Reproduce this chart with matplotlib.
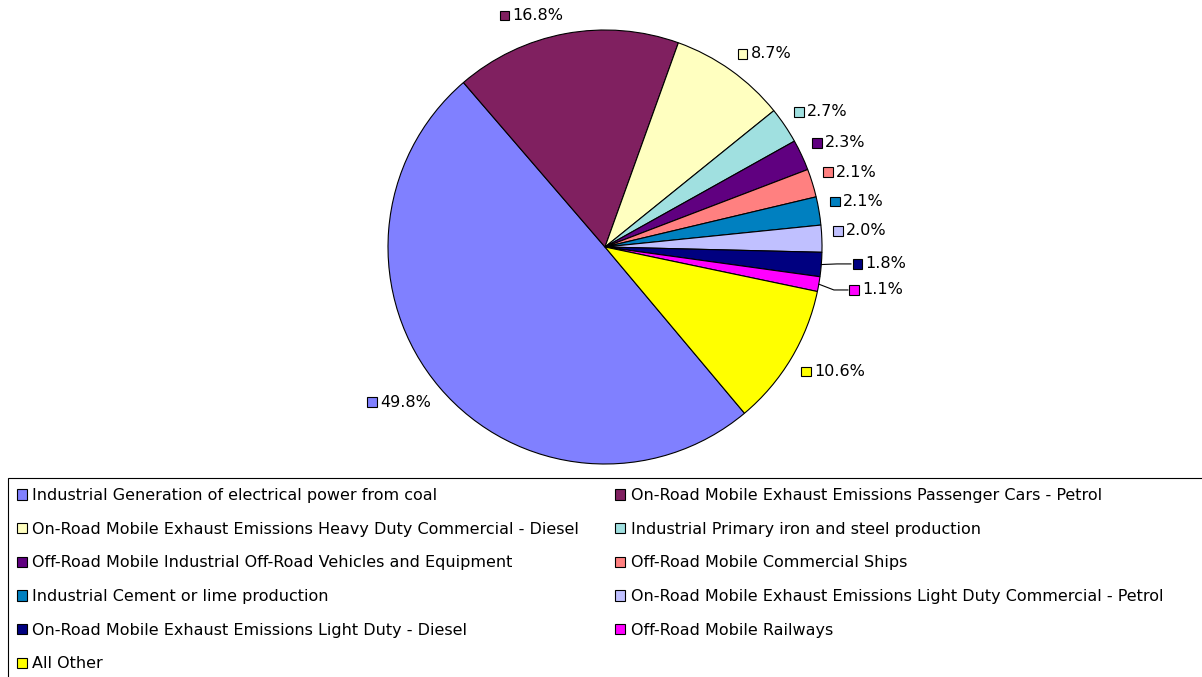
import matplotlib
matplotlib.use("Agg")
import numpy as np
from matplotlib import pyplot as plt
from matplotlib.patches import Patch, Rectangle
from matplotlib.offsetbox import AnnotationBbox, DrawingArea, HPacker, TextArea

# data
sources = [
    "Industrial Generation of electrical power from coal",
    "On-Road Mobile Exhaust Emissions Passenger Cars - Petrol",
    "On-Road Mobile Exhaust Emissions Heavy Duty Commercial - Diesel",
    "Industrial Primary iron and steel production",
    "Off-Road Mobile Industrial Off-Road Vehicles and Equipment",
    "Off-Road Mobile Commercial Ships",
    "Industrial Cement or lime production",
    "On-Road Mobile Exhaust Emissions Light Duty Commercial - Petrol",
    "On-Road Mobile Exhaust Emissions Light Duty - Diesel",
    "Off-Road Mobile Railways",
    "All Other",
]
shares = [49.8, 16.8, 8.7, 2.7, 2.3, 2.1, 2.1, 2.0, 1.8, 1.1, 10.6]
colors = ["#8080FF", "#802060", "#FFFFC0", "#A0E0E0", "#600080", "#FF8080",
          "#0080C0", "#C0C0FF", "#000080", "#FF00FF", "#FFFF00"]

FONT = 11.5
W, H = 1202, 677
CX, CY, R = 605, H - 247, 217

# labels that were pushed off the slice (offset from centre, in radii)
pushed = {8: (1.138, -0.078), 9: (1.124, -0.198)}

plt.rcParams['font.family'] = ['DejaVu Sans']
fig = plt.figure(figsize=(W / 100, H / 100), dpi=100)
ax = fig.add_axes([0, 0, 1, 1])

wedges, _ = ax.pie(shares, colors=colors, center=(CX, CY), radius=R,
                   startangle=90 - 140, counterclock=False,
                   wedgeprops=dict(edgecolor="black", linewidth=0.8))
ax.set_xlim(0, W)
ax.set_ylim(0, H)
ax.set_aspect("equal")
ax.axis("off")


def label_box(value, color):
    # DrawingArea works in points (1pt = 1.39px at 100 dpi)
    square = DrawingArea(7.8, 7.8, 0, 0)
    square.add_artist(Rectangle((0.4, 0.4), 7.0, 7.0, facecolor=color, edgecolor="black", linewidth=0.8))
    text = TextArea(f"{value:.1f}%", textprops=dict(fontsize=FONT, color="black"))
    return HPacker(children=[square, text], pad=0, sep=2, align="center")


for i, (w, value) in enumerate(zip(wedges, shares)):
    mid = np.deg2rad((w.theta1 + w.theta2) / 2)
    ux, uy = np.cos(mid), np.sin(mid)
    if i in pushed:
        px, py = pushed[i]
        lx, ly = CX + px * R, CY + py * R
        ex, ey = CX + ux * R, CY + uy * R
        ax.plot([ex, lx - 15, lx - 1], [ey, ly, ly], color="black", linewidth=0.8)
        align = (0, 0.5)
    else:
        lx, ly = CX + 1.05 * R * ux, CY + 1.05 * R * uy
        align = (0 if ux > 0 else 1, 0 if uy > 0 else 1)
    ab = AnnotationBbox(label_box(value, w.get_facecolor()), (lx, ly), xycoords="data",
                        box_alignment=align, frameon=False, pad=0, annotation_clip=False)
    ax.add_artist(ab)

# legend frame runs off the right and bottom edge of the image
ax.add_patch(Rectangle((8, -20), W, H - 478 + 20, facecolor="none", edgecolor="black",
                       linewidth=0.8, clip_on=False))

order = [0, 2, 4, 6, 8, 10, 1, 3, 5, 7, 9]
handles = [Patch(facecolor=colors[i], edgecolor="black", linewidth=0.8) for i in order]
ax.legend(handles, [sources[i] for i in order], ncol=2, loc="upper left",
          bbox_to_anchor=(17, H - 488), bbox_transform=ax.transData,
          frameon=False, fontsize=FONT, handlelength=0.62, handleheight=0.62,
          handletextpad=0.35, labelspacing=1.17, columnspacing=2.25, borderpad=0,
          borderaxespad=0)

fig.savefig("out.png", dpi=100)
